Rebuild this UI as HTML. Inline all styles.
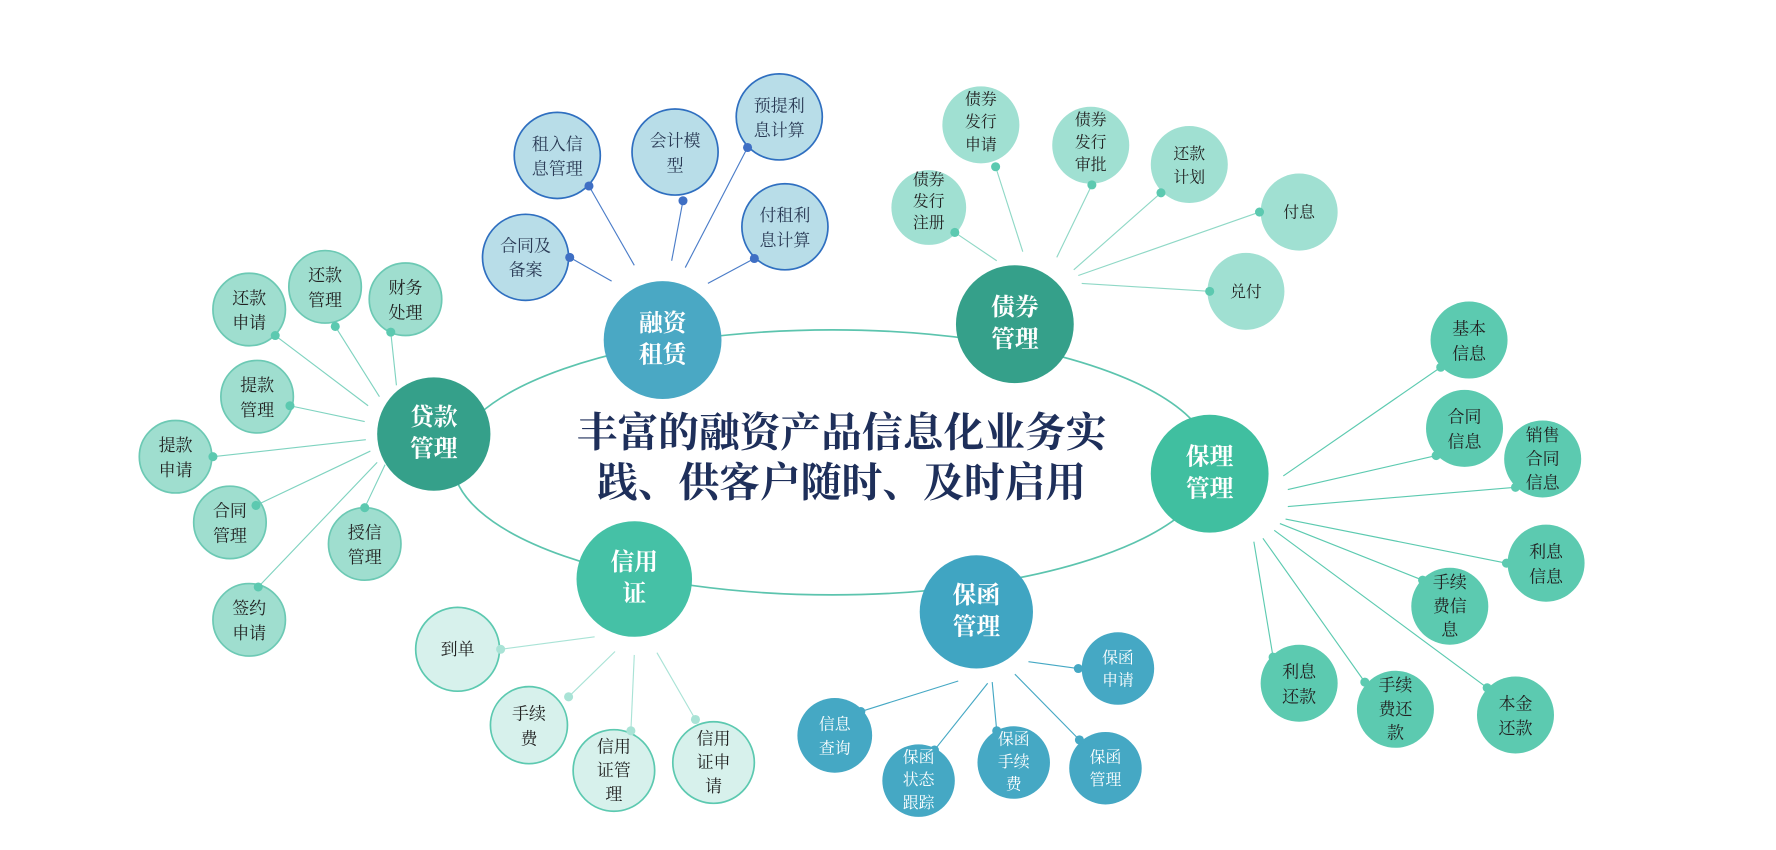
<!DOCTYPE html>
<html><head><meta charset="utf-8"><style>
html,body{margin:0;padding:0;background:#fff;width:1776px;height:850px;overflow:hidden}
text{font-family:"Liberation Serif","Noto Serif CJK SC","Noto Sans CJK SC",serif;text-anchor:middle}
</style></head><body>
<svg width="1776" height="850" viewBox="0 0 1568 750" xmlns="http://www.w3.org/2000/svg">
<ellipse cx="735" cy="408" rx="335" ry="117" fill="none" stroke="#5cc4ae" stroke-width="1.5"/>
<g stroke-width="1">
<g stroke="#4a7cc8">
<line x1="503" y1="227" x2="540" y2="248"/><line x1="520" y1="164" x2="560" y2="234"/><line x1="603" y1="177" x2="593" y2="230"/><line x1="660" y1="130" x2="605" y2="236"/><line x1="666" y1="228" x2="625" y2="250"/></g>
<g stroke="#8fd8c6">
<line x1="843" y1="205" x2="880" y2="230"/><line x1="879" y1="147" x2="903" y2="222"/><line x1="964" y1="163" x2="933" y2="227"/><line x1="1025" y1="170" x2="948" y2="238"/><line x1="1112" y1="187" x2="952" y2="243"/><line x1="1068" y1="257" x2="955" y2="250"/></g>
<g stroke="#7fd3c0">
<line x1="243" y1="296" x2="325" y2="358"/><line x1="296" y1="288" x2="335" y2="350"/><line x1="345" y1="293" x2="350" y2="340"/><line x1="256" y1="358" x2="322" y2="372"/><line x1="188" y1="403" x2="323" y2="388"/><line x1="226" y1="446" x2="327" y2="398"/><line x1="322" y1="448" x2="340" y2="410"/><line x1="228" y1="518" x2="333" y2="408"/></g>
<g stroke="#5ccab0">
<line x1="1272" y1="324" x2="1133" y2="420"/><line x1="1268" y1="402" x2="1137" y2="432"/><line x1="1338" y1="430" x2="1137" y2="447"/><line x1="1330" y1="497" x2="1135" y2="458"/><line x1="1256" y1="512" x2="1130" y2="462"/><line x1="1124" y1="580" x2="1107" y2="478"/><line x1="1205" y1="602" x2="1115" y2="475"/><line x1="1313" y1="607" x2="1125" y2="468"/></g>
<g stroke="#a9e3d6">
<line x1="442" y1="573" x2="525" y2="562"/><line x1="502" y1="615" x2="543" y2="575"/><line x1="557" y1="645" x2="560" y2="578"/><line x1="614" y1="635" x2="580" y2="576"/></g>
<g stroke="#45a8c4">
<line x1="952" y1="590" x2="908" y2="584"/><line x1="760" y1="628" x2="846" y2="601"/><line x1="825" y1="662" x2="872" y2="603"/><line x1="880" y1="645" x2="876" y2="602"/><line x1="953" y1="653" x2="896" y2="595"/></g>
</g>

<g fill="#b8dde8" stroke="#2f6fc0" stroke-width="1.5">
<circle cx="464" cy="227" r="38"/><circle cx="492" cy="137" r="38"/><circle cx="596" cy="134" r="38"/><circle cx="688" cy="103" r="38"/><circle cx="693" cy="200" r="38"/></g>
<g fill="#3f6fc4"><circle cx="503" cy="227" r="4"/><circle cx="520" cy="164" r="4"/><circle cx="603" cy="177" r="4"/><circle cx="660" cy="130" r="4"/><circle cx="666" cy="228" r="4"/></g>
<g fill="#a0e0d2"><circle cx="820" cy="183" r="33"/><circle cx="866" cy="110" r="34"/><circle cx="963" cy="128" r="34"/><circle cx="1050" cy="145" r="34"/><circle cx="1147" cy="187" r="34"/><circle cx="1100" cy="257" r="34"/></g>
<g fill="#5cc9b0"><circle cx="843" cy="205" r="4"/><circle cx="879" cy="147" r="4"/><circle cx="964" cy="163" r="4"/><circle cx="1025" cy="170" r="4"/><circle cx="1112" cy="187" r="4"/><circle cx="1068" cy="257" r="4"/></g>
<g fill="#9fdecf" stroke="#6cc9b4" stroke-width="1.5"><circle cx="220" cy="273" r="32"/><circle cx="287" cy="253" r="32"/><circle cx="358" cy="264" r="32"/><circle cx="227" cy="350" r="32"/><circle cx="155" cy="403" r="32"/><circle cx="203" cy="461" r="32"/><circle cx="322" cy="480" r="32"/><circle cx="220" cy="547" r="32"/></g>
<g fill="#5cc9b0"><circle cx="243" cy="296" r="4"/><circle cx="296" cy="288" r="4"/><circle cx="345" cy="293" r="4"/><circle cx="256" cy="358" r="4"/><circle cx="188" cy="403" r="4"/><circle cx="226" cy="446" r="4"/><circle cx="322" cy="448" r="4"/><circle cx="228" cy="518" r="4"/></g>
<g fill="#5ccab0"><circle cx="1297" cy="300" r="34"/><circle cx="1293" cy="378" r="34"/><circle cx="1362" cy="405" r="34"/><circle cx="1365" cy="497" r="34"/><circle cx="1280" cy="535" r="34"/><circle cx="1147" cy="603" r="34"/><circle cx="1232" cy="626" r="34"/><circle cx="1338" cy="631" r="34"/>
<circle cx="1272" cy="324" r="4"/><circle cx="1268" cy="402" r="4"/><circle cx="1338" cy="430" r="4"/><circle cx="1330" cy="497" r="4"/><circle cx="1256" cy="512" r="4"/><circle cx="1124" cy="580" r="4"/><circle cx="1205" cy="602" r="4"/><circle cx="1313" cy="607" r="4"/></g>
<g fill="#d7f1ec" stroke="#5cc9b0" stroke-width="1.5"><circle cx="404" cy="573" r="37"/><circle cx="467" cy="640" r="34"/><circle cx="542" cy="680" r="36"/><circle cx="630" cy="673" r="36"/></g>
<g fill="#a9e3d6"><circle cx="442" cy="573" r="4"/><circle cx="502" cy="615" r="4"/><circle cx="557" cy="645" r="4"/><circle cx="614" cy="635" r="4"/></g>
<g fill="#45a8c4"><circle cx="987" cy="590" r="32"/><circle cx="737" cy="649" r="33"/><circle cx="811" cy="689" r="32"/><circle cx="895" cy="673" r="32"/><circle cx="976" cy="678" r="32"/>
<circle cx="952" cy="590" r="4"/><circle cx="760" cy="628" r="4"/><circle cx="825" cy="662" r="4"/><circle cx="880" cy="645" r="4"/><circle cx="953" cy="653" r="4"/></g>

<circle cx="585" cy="300" r="52" fill="#4aa8c4"/>
<circle cx="896" cy="286" r="52" fill="#35a08a"/>
<circle cx="383" cy="383" r="50" fill="#35a08a"/>
<circle cx="1068" cy="418" r="52" fill="#40bfa0"/>
<circle cx="560" cy="511" r="51" fill="#45c1a6"/>
<circle cx="862" cy="540" r="50" fill="#40a5c2"/>

<g fill="#fff" font-size="21" font-weight="bold">
<text x="585" y="292">融资</text><text x="585" y="320">租赁</text>
<text x="896" y="278">债券</text><text x="896" y="306">管理</text>
<text x="383" y="375">贷款</text><text x="383" y="403">管理</text>
<text x="1068" y="410">保理</text><text x="1068" y="438">管理</text>
<text x="560" y="503">信用</text><text x="560" y="531">证</text>
<text x="862" y="532">保函</text><text x="862" y="560">管理</text>
</g>

<g fill="#1e2f5a" font-size="36" font-weight="bold">
<text x="743" y="394">丰富的融资产品信息化业务实</text>
<text x="743" y="438">践、供客户随时、及时启用</text>
</g>

<g fill="#2a3a55" font-size="15">
<text x="464" y="222">合同及</text><text x="464" y="243">备案</text>
<text x="492" y="132">租入信</text><text x="492" y="154">息管理</text>
<text x="596" y="129">会计模</text><text x="596" y="151">型</text>
<text x="688" y="98">预提利</text><text x="688" y="120">息计算</text>
<text x="693" y="195">付租利</text><text x="693" y="217">息计算</text>
</g>
<g fill="#222" font-size="14">
<text x="820" y="163">债券</text><text x="820" y="182">发行</text><text x="820" y="201">注册</text>
<text x="866" y="92">债券</text><text x="866" y="112">发行</text><text x="866" y="132">申请</text>
<text x="963" y="110">债券</text><text x="963" y="130">发行</text><text x="963" y="150">审批</text>
<text x="1050" y="140">还款</text><text x="1050" y="161">计划</text>
<text x="1147" y="192">付息</text>
<text x="1100" y="262">兑付</text>
</g>
<g fill="#222" font-size="15">
<text x="220" y="268">还款</text><text x="220" y="290">申请</text>
<text x="287" y="248">还款</text><text x="287" y="270">管理</text>
<text x="358" y="259">财务</text><text x="358" y="281">处理</text>
<text x="227" y="345">提款</text><text x="227" y="367">管理</text>
<text x="155" y="398">提款</text><text x="155" y="420">申请</text>
<text x="203" y="456">合同</text><text x="203" y="478">管理</text>
<text x="322" y="475">授信</text><text x="322" y="497">管理</text>
<text x="220" y="542">签约</text><text x="220" y="564">申请</text>
<text x="1297" y="295">基本</text><text x="1297" y="317">信息</text>
<text x="1293" y="373">合同</text><text x="1293" y="395">信息</text>
<text x="1362" y="389">销售</text><text x="1362" y="410">合同</text><text x="1362" y="431">信息</text>
<text x="1365" y="492">利息</text><text x="1365" y="514">信息</text>
<text x="1280" y="519">手续</text><text x="1280" y="540">费信</text><text x="1280" y="561">息</text>
<text x="1147" y="598">利息</text><text x="1147" y="620">还款</text>
<text x="1232" y="610">手续</text><text x="1232" y="631">费还</text><text x="1232" y="652">款</text>
<text x="1338" y="626">本金</text><text x="1338" y="648">还款</text>
<text x="404" y="578">到单</text>
<text x="467" y="635">手续</text><text x="467" y="657">费</text>
<text x="542" y="664">信用</text><text x="542" y="685">证管</text><text x="542" y="706">理</text>
<text x="630" y="657">信用</text><text x="630" y="678">证申</text><text x="630" y="699">请</text>
</g>
<g fill="#fff" font-size="14">
<text x="987" y="585">保函</text><text x="987" y="605">申请</text>
<text x="737" y="644">信息</text><text x="737" y="665">查询</text>
<text x="811" y="673">保函</text><text x="811" y="693">状态</text><text x="811" y="713">跟踪</text>
<text x="895" y="657">保函</text><text x="895" y="677">手续</text><text x="895" y="697">费</text>
<text x="976" y="673">保函</text><text x="976" y="693">管理</text>
</g>
</svg>
</body></html>
